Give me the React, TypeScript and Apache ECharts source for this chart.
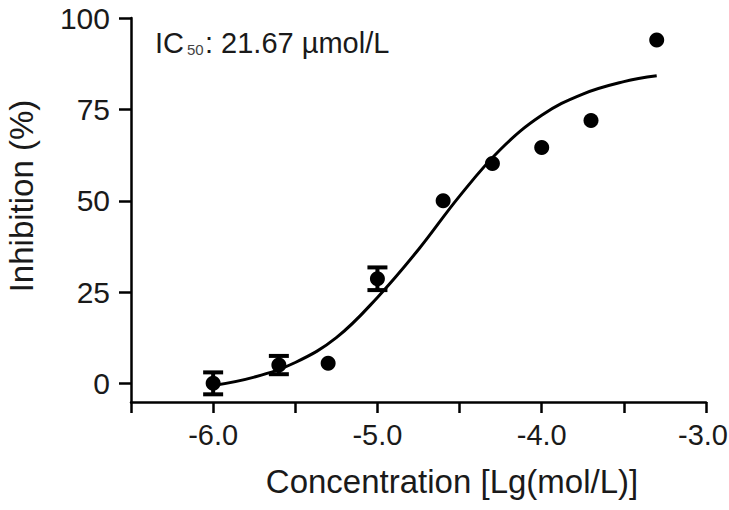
import React, { useEffect, useRef } from "react";
import * as echarts from "echarts";

// Measured data points (x = log10 concentration, y = inhibition %)
const pointX = [-6.0, -5.6, -5.3, -5.0, -4.6, -4.3, -4.0, -3.7, -3.3];
const pointY = [0.1, 5.1, 5.6, 28.7, 50, 60.2, 64.6, 72, 94];
const pointErr = [3, 2.5, 0, 3.1, 0, 0, 0, 0, 0];

// Fitted curve
const curveX = [-6.0, -5.75, -5.5, -5.25, -5.0, -4.75, -4.5, -4.25, -4.0, -3.75, -3.5, -3.3];
const curveY = [-0.5, 1.8, 5.8, 12.6, 23.6, 36.7, 51.3, 64.1, 73.4, 79.2, 82.6, 84.2];

const yTicks = [0, 25, 50, 75, 100];
const X_MIN = -6.5;
const X_MAX = -3.0;

const FONT = "'Liberation Sans', Arial, sans-serif";
const TXT = "#1a1a1a";

export default function App() {
  const ref = useRef<HTMLDivElement>(null);
  useEffect(() => {
    if (!ref.current) return;
    const chart = echarts.init(ref.current, null, { renderer: "svg" });
    const points = pointX.map((x, i) => [x, pointY[i]]);
    const curve = curveX.map((x, i) => [x, curveY[i]]);
    const errs = pointX.map((x, i) => [x, pointY[i], pointErr[i]]);
    chart.setOption({
      animation: false,
      grid: { left: 131, right: 23, top: 18, bottom: 108, outerBoundsMode: "none" },
      xAxis: {
        type: "value",
        min: X_MIN,
        max: X_MAX,
        interval: 0.5,
        axisLine: { show: true, onZero: false, lineStyle: { color: "#000", width: 2.5 } },
        axisTick: { show: true, length: 11, lineStyle: { color: "#000", width: 2.5 } },
        axisLabel: {
          fontSize: 29,
          fontFamily: FONT,
          color: TXT,
          margin: 18,
          formatter: (v: number) => {
            if (Math.abs(v - Math.round(v)) > 1e-6) return "";
            if (Math.abs(v - X_MAX) < 1e-6) return "{e|" + v.toFixed(1) + "}";
            return v.toFixed(1);
          },
          rich: {
            e: { fontSize: 29, fontFamily: FONT, color: TXT, padding: [0, 6, 0, 0] },
          },
        },
        splitLine: { show: false },
      },
      yAxis: {
        type: "value",
        min: -5,
        max: 100,
        axisLine: { show: true, onZero: false, lineStyle: { color: "#000", width: 2.5 } },
        axisTick: { show: true, length: 12, customValues: yTicks, lineStyle: { color: "#000", width: 2.5 } },
        axisLabel: {
          customValues: yTicks,
          fontSize: 30,
          fontFamily: FONT,
          color: TXT,
          margin: 21,
        },
        splitLine: { show: false },
      },
      graphic: [
        {
          type: "text",
          x: 452,
          y: 481,
          style: {
            text: "Concentration [Lg(mol/L)]",
            fontSize: 33,
            fontFamily: FONT,
            fill: TXT,
            textAlign: "center",
            textVerticalAlign: "middle",
          },
        },
        {
          type: "text",
          x: 21,
          y: 196,
          rotation: Math.PI / 2,
          style: {
            text: "Inhibition (%)",
            fontSize: 33,
            fontFamily: FONT,
            fill: TXT,
            textAlign: "center",
            textVerticalAlign: "middle",
          },
        },
        {
          type: "text",
          x: 155,
          y: 28,
          style: { text: "IC", fontSize: 29, fontFamily: FONT, fill: TXT, textVerticalAlign: "alphabetic" },
        },
        {
          type: "text",
          x: 187,
          y: 42,
          style: { text: "50", fontSize: 15, fontFamily: FONT, fill: "#444", textVerticalAlign: "alphabetic" },
        },
        {
          type: "text",
          x: 205,
          y: 28,
          style: { text: ": 21.67 µmol/L", fontSize: 29, fontFamily: FONT, fill: TXT, textVerticalAlign: "alphabetic" },
        },
      ],
      series: [
        {
          type: "line",
          data: curve,
          smooth: 0.4,
          showSymbol: false,
          symbol: "none",
          lineStyle: { color: "#000", width: 3 },
          z: 2,
        },
        {
          type: "custom",
          data: errs,
          z: 3,
          renderItem: (params: any, api: any) => {
            const x = api.value(0);
            const y = api.value(1);
            const e = api.value(2);
            if (!e) return null;
            const top = api.coord([x, y + e]);
            const bot = api.coord([x, y - e]);
            const hw = 10;
            const style = { stroke: "#000", lineWidth: 4 };
            return {
              type: "group",
              children: [
                { type: "line", shape: { x1: top[0], y1: top[1], x2: bot[0], y2: bot[1] }, style },
                { type: "line", shape: { x1: top[0] - hw, y1: top[1], x2: top[0] + hw, y2: top[1] }, style },
                { type: "line", shape: { x1: bot[0] - hw, y1: bot[1], x2: bot[0] + hw, y2: bot[1] }, style },
              ],
            };
          },
        },
        {
          type: "scatter",
          data: points,
          symbol: "circle",
          symbolSize: 15,
          itemStyle: { color: "#000", opacity: 1 },
          z: 4,
        },
      ],
    });
    return () => chart.dispose();
  }, []);
  return (
    <div
      ref={ref}
      style={{ position: "fixed", left: 0, top: 0, width: 729, height: 510, background: "#fff" }}
    />
  );
}
